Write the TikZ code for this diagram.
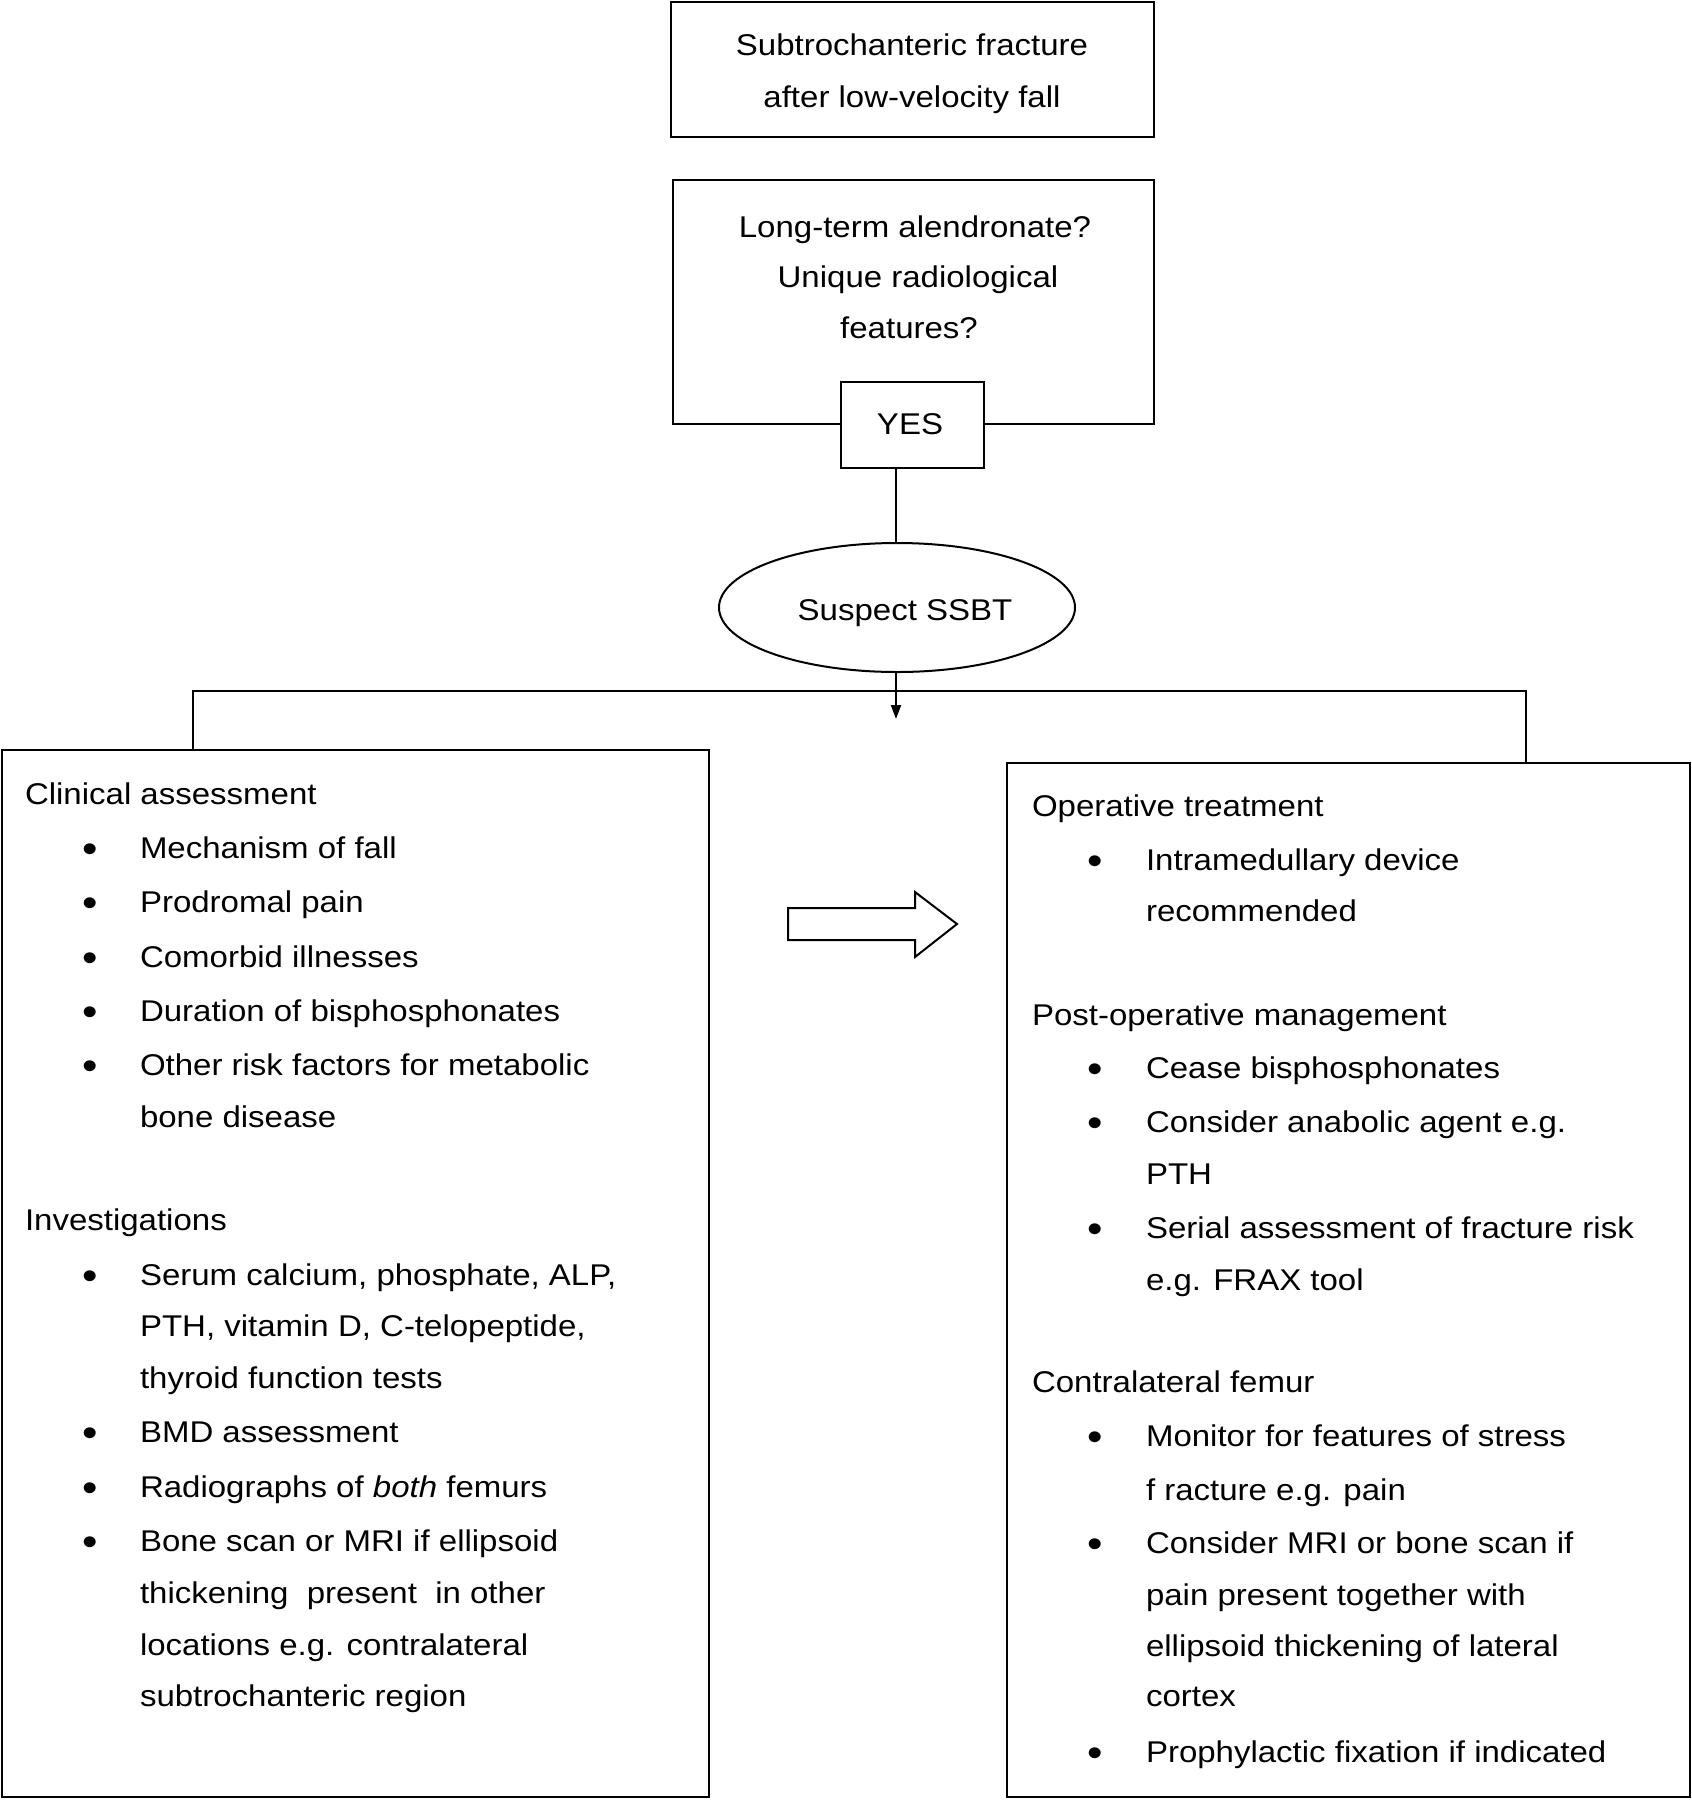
\documentclass[tikz,border=0pt]{standalone}
\usepackage{fontspec}
\setmainfont[FakeStretch=1.1]{Liberation Sans}
\usetikzlibrary{shapes.geometric,arrows.meta}
\begin{document}
\begin{tikzpicture}[x=1pt,y=-1pt,
  txt/.style={inner sep=0,outer sep=0,font=\fontsize{30}{36}\selectfont},
  hd/.style={txt,anchor=base west},
  bl/.style={txt,anchor=base},
  dot/.style={inner sep=0,outer sep=0,anchor=base,yshift=-4pt,font=\fontsize{40}{44}\selectfont},
  it/.style={txt,anchor=base west},
  boxst/.style={draw,line width=2pt,rectangle,inner sep=0,outer sep=0,anchor=north west,fill=white},
  conn/.style={line width=2pt}]
\useasboundingbox (0,0) rectangle (1692,1800);

% boxes
\node[boxst,minimum width=483,minimum height=135.5] (top) at (671,1.5) {};
\node[boxst,minimum width=481,minimum height=244] (q) at (673,180) {};
\node[boxst,minimum width=143,minimum height=86] (yes) at (841,382) {};
\node[draw,line width=2pt,ellipse,inner sep=0,outer sep=0,minimum width=356,minimum height=129] (ell) at (897,607.5) {};
\node[boxst,minimum width=707,minimum height=1047] (left) at (2,750) {};
\node[boxst,minimum width=683,minimum height=1034] (right) at (1007,763) {};

% connectors
\coordinate (hl) at (193,691);
\coordinate (hr) at (1526,691);
\coordinate (tip) at (896,719);
\draw[conn] (yes.south -| tip) -- (ell.north -| tip);
\draw[conn,-{Triangle[length=14pt,width=10pt]}] (ell.south -| tip) -- (tip);
\draw[conn] (left.north -| hl) -- (hl) -- (hr) -- (right.north -| hr);

% block arrow
\draw[line width=2pt,line join=miter] (788,908) -- (915,908) -- (915,892) -- (957,924) -- (915,957) -- (915,940) -- (788,940) -- cycle;

% top texts
\node[bl] (t1) at (912,55) {Subtrochanteric fracture};
\node[bl] (t2) at (912,107) {after low-velocity fall};
\node[bl] (q1) at (915,237) {Long-term alendronate?};
\node[bl] (q2) at (918,287) {Unique radiological};
\node[bl] (q3) at (909,338) {features?};
\node[bl] (yt) at (910,434) {YES};
\node[bl] (st) at (905,620) {Suspect SSBT};

% left box text
\node[hd] (l1) at (25,804) {Clinical assessment};
\node[dot] (lb2) at (90,858) {•};
\node[it] (l2) at (140,858) {Mechanism of fall};
\node[dot] (lb3) at (90,912.5) {•};
\node[it] (l3) at (140,912.5) {Prodromal pain};
\node[dot] (lb4) at (90,967) {•};
\node[it] (l4) at (140,967) {Comorbid illnesses};
\node[dot] (lb5) at (90,1021) {•};
\node[it] (l5) at (140,1021) {Duration of bisphosphonates};
\node[dot] (lb6) at (90,1075) {•};
\node[it] (l6) at (140,1075) {Other risk factors for metabolic};
\node[it] (l7) at (140,1127.5) {bone disease};
\node[hd] (l8) at (25,1230.5) {Investigations};
\node[dot] (lb9) at (90,1285) {•};
\node[it] (l9) at (140,1285) {Serum calcium, phosphate, ALP,};
\node[it] (l10) at (140,1336.5) {PTH, vitamin D, C-telopeptide,};
\node[it] (l11) at (140,1388) {thyroid function tests};
\node[dot] (lb12) at (90,1442.5) {•};
\node[it] (l12) at (140,1442.5) {BMD assessment};
\node[dot] (lb13) at (90,1497) {•};
\node[it] (l13) at (140,1497) {Radiographs of \textit{both} femurs};
\node[dot] (lb14) at (90,1551.5) {•};
\node[it] (l14) at (140,1551.5) {Bone scan or MRI if ellipsoid};
\node[it] (l15) at (140,1603.3) {thickening\ \ present\ \ in other};
\node[it] (l16) at (140,1655) {locations e.g. contralateral};
\node[it] (l17) at (140,1706.7) {subtrochanteric region};

% right box text
\node[hd] (r1) at (1032,816.7) {Operative treatment};
\node[dot] (rb2) at (1095,870) {•};
\node[it] (r2) at (1146,870) {Intramedullary device};
\node[it] (r3) at (1146,921.7) {recommended};
\node[hd] (r4) at (1032,1025) {Post-operative management};
\node[dot] (rb5) at (1095,1078.3) {•};
\node[it] (r5) at (1146,1078.3) {Cease bisphosphonates};
\node[dot] (rb6) at (1095,1132.7) {•};
\node[it] (r6) at (1146,1132.7) {Consider anabolic agent e.g.};
\node[it] (r7) at (1146,1184.4) {PTH};
\node[dot] (rb8) at (1095,1238) {•};
\node[it] (r8) at (1146,1238) {Serial assessment of fracture risk};
\node[it] (r9) at (1146,1290) {e.g. FRAX tool};
\node[hd] (r10) at (1032,1392) {Contralateral femur};
\node[dot] (rb11) at (1095,1446.7) {•};
\node[it] (r11) at (1146,1446.7) {Monitor for features of stress};
\node[it] (r12) at (1146,1500) {f racture e.g. pain};
\node[dot] (rb13) at (1095,1553.3) {•};
\node[it] (r13) at (1146,1553.3) {Consider MRI or bone scan if};
\node[it] (r14) at (1146,1605) {pain present together with};
\node[it] (r15) at (1146,1656.7) {ellipsoid thickening of lateral};
\node[it] (r16) at (1146,1706.7) {cortex};
\node[dot] (rb17) at (1095,1762) {•};
\node[it] (r17) at (1146,1762) {Prophylactic fixation if indicated};
\end{tikzpicture}
\end{document}
